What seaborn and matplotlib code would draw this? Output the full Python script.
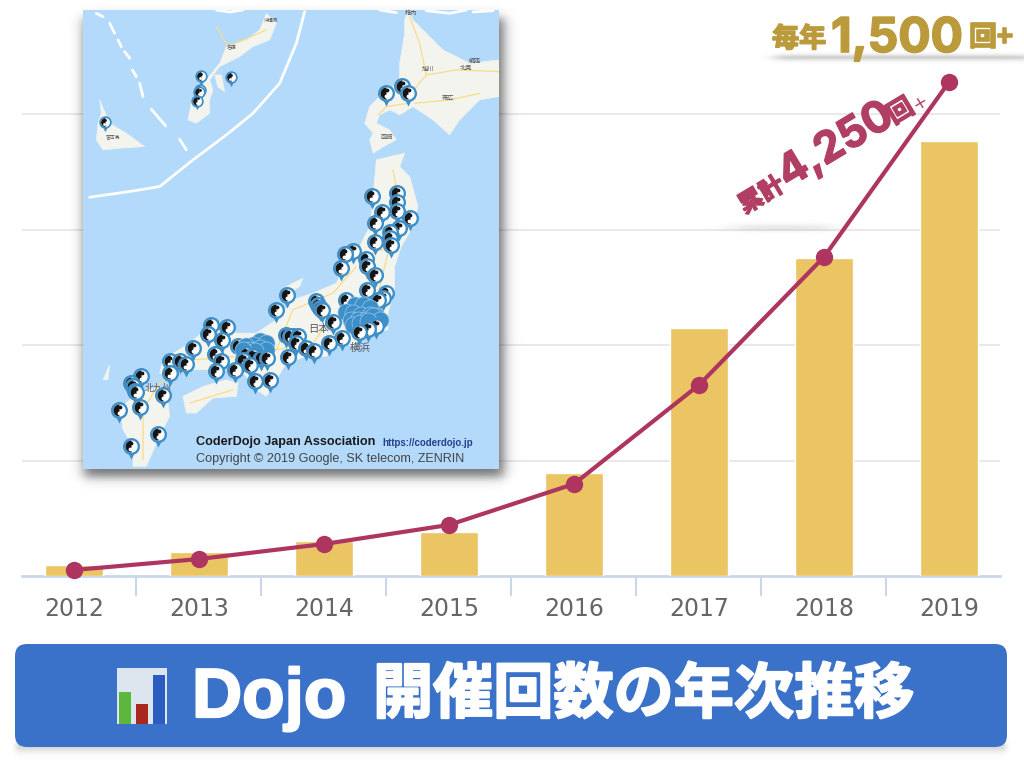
import numpy as np
import pandas as pd
import matplotlib
matplotlib.use("Agg")
import matplotlib.pyplot as plt
from matplotlib.markers import MarkerStyle
from matplotlib.patches import FancyBboxPatch, Polygon, Rectangle
import matplotlib.patheffects as pe
import seaborn as sns

# ---------- data ----------
years = ["2012", "2013", "2014", "2015", "2016", "2017", "2018", "2019"]
yearly_events = [38, 83, 121, 152, 357, 859, 1101, 1507]
cumulative_events = [52, 147, 277, 442, 797, 1654, 2762, 4277]

# ---------- decorative map (coordinates of the map picture) ----------
hokkaido = [(985,30),(1000,60),(1040,100),(1090,150),(1170,190),(1258,180),(1258,290),(1200,300),(1140,360),
            (1110,405),(1060,360),(1000,320),(960,345),(930,330),(900,345),(890,370),(930,390),(950,420),
            (920,435),(880,460),(870,420),(880,400),(855,370),(870,320),(900,290),(930,270),(960,240),(960,190),
            (975,100),(975,60)]
honshu = [(890,480),(930,470),(975,460),(960,500),(990,530),(1015,620),(1000,680),(965,740),(945,800),(945,870),
          (925,940),(925,990),(880,1000),(850,1010),(820,1040),(800,1030),(770,1040),(740,1070),(680,1070),
          (620,1090),(560,1190),(530,1170),(500,1130),(470,1100),(400,1110),(330,1110),(270,1130),(240,1120),
          (250,1080),(330,1030),(400,970),(470,1000),(530,1000),(590,960),(640,900),(700,880),(770,850),
          (800,790),(840,740),(870,680),(880,590)]
shikoku = [(310,1190),(370,1160),(440,1140),(475,1150),(470,1190),(400,1195),(350,1240),(320,1240)]
kyushu = [(200,1170),(260,1160),(270,1250),(240,1310),(200,1400),(160,1400),(160,1340),(130,1290),(120,1230),(150,1200)]
okinawa = [(560,40),(590,70),(570,120),(520,140),(480,170),(420,200),(390,240),(400,270),(390,300),(390,340),
           (350,370),(325,360),(335,310),(380,240),(420,190),(440,140),(500,120),(540,90)]
miyako = [(60,300),(90,370),(140,400),(195,440),(120,445),(70,450),(50,420),(55,370),(65,340)]
sado = [(620,860),(670,835),(660,860),(630,880)]
islands = [sado, [(70,1140),(90,1095),(85,1140)], [(405,225),(425,225),(435,275),(415,262)]]
boundary = [(30,592),(150,575),(240,560),(340,480),(440,405),(520,340),(600,250),(650,130),(675,35)]
dashes = [[(50,40),(70,50)], [(90,70),(105,100)], [(115,120),(125,140)], [(135,155),(150,175)], [(158,210),(170,230)],
          [(180,250),(190,290)], [(215,328),(258,378)], [(300,418),(320,450)],
          [(410,30),(450,36),(490,30)], [(900,30),(950,38)], [(1040,32),(1110,40),(1160,30)], [(1180,36),(1240,32)]]
roads = [[(1258,215),(1130,210),(1040,225),(1010,260),(985,310),(920,320),(895,345)],
         [(1005,310),(1110,300),(1200,280)], [(1040,225),(1020,130),(990,50)],
         [(940,510),(960,620),(925,760),(900,860),(885,985)], [(880,760),(930,740)],
         [(885,985),(750,960),(700,1030),(590,1050),(470,1070),(340,1080),(240,1150),(190,1230),(190,1380)],
         [(590,1050),(640,930),(760,880),(830,800)], [(330,1210),(460,1170)], [(410,80),(445,140),(560,90)]]
pins_back = [(920,278),(968,258),(985,278),(876,587),(953,579),(952,605),(952,632),(990,655),(908,637),(885,670),(930,695),
             (958,683),(930,715),(885,728),(935,737),(820,755),(795,762),(783,805),(858,778),(862,798),(887,825),
             (863,872),(918,880),(910,895),(896,902),(798,900),(622,885),(590,930),(710,905),(715,915),(722,925),(728,932),
             (620,1005),(630,1010),(640,1010),(655,1010),(650,1030),(678,1045),(702,1055),(625,1072),
             (393,975),(443,982),(385,1003),(427,1022),(340,1045),(405,1062),(425,1085),(410,1115),(270,1083),(300,1085),
             (318,1093),(270,1120),(185,1130),(155,1150),(160,1160),(165,1175),(168,1178),(250,1187),(118,1230),(182,1222),
             (235,1302),(153,1338),(475,1040)]
pins_cluster = [(825,915),(850,915),(870,925),(800,938),(820,940),(845,945),(870,945),(890,950),(815,960),(835,960),
                (860,960),(880,950),(900,960),(820,975),(840,970),(865,965),
                (540,1025),(560,1030),(520,1035),(500,1040),(540,1045),(560,1050),(510,1050),(525,1055),(490,1050)]
pins_front = [(760,968),(786,1015),(748,1030),(865,988),(890,980),(838,998),(500,1062),(520,1068),(545,1075),(562,1075),
              (490,1080),(512,1095),(465,1110),(527,1145),(572,1140)]
pins_small = [(363,228),(453,232),(362,270),(358,277),(352,302),(75,367)]
place_labels = [("日本",716,988,7.5),("横浜",842,1045,7.5),("北九州",235,1165,6.5),("函館",923,410,4.5),("旭川",1045,207,4.5),
                ("網走",1185,183,4.5),("北見",1158,205,4.5),("帯広",1105,293,4.5),("宮古島",100,410,3.5),("名護",455,143,3.5),
                ("沖縄県",575,62,3.5),("稚内",993,38,4.5)]

# ---------- colours ----------
BAR = "#ebc463"
LINE = "#ae3560"
GRID = "#e9e9e9"
AXIS = "#ccd6eb"
GOLD = "#bb9a3b"
ROSE = "#b03f63"
BLUE = "#3b72c9"
SEA = "#b3d9fb"
PIN = "#3d8fc9"
CJK = ["Noto Sans CJK JP", "DejaVu Sans"]
WIDE = ["Inter", "Liberation Sans"]

sns.set_theme(style="white")
plt.rcParams["font.family"] = CJK
W, H = 1024, 768
fig = plt.figure(figsize=(W / 100, H / 100), dpi=100, facecolor="white")


def px_axes(x0, y0, x1, y1, z):
    return fig.add_axes([x0 / W, 1 - y1 / H, (x1 - x0) / W, (y1 - y0) / H], zorder=z)


# ---------- chart ----------
ax = px_axes(22, 576 - 519.75, 1000, 576, 1)
ax.patch.set_alpha(0)
df = pd.DataFrame({"year": years, "events": yearly_events})
sns.barplot(data=df, x="year", y="events", color=BAR, saturation=1, width=0.47, ax=ax, zorder=3)
ax.set_ylim(0, 1800)
ax.set_yticks(np.arange(400, 1601, 400))
ax.set_yticklabels([])
ax.yaxis.grid(True, color=GRID, lw=1.5, zorder=0)
ax.set_axisbelow(True)
ax.set_xlabel("")
ax.set_ylabel("")
for s in ["top", "left", "right"]:
    ax.spines[s].set_visible(False)
ax.spines["bottom"].set_color(AXIS)
ax.spines["bottom"].set_linewidth(2)
ax.set_xticks(np.arange(len(years) - 1) + 0.5, minor=True)
ax.tick_params(axis="x", which="minor", length=14.5, width=1.5, color=AXIS, bottom=True)
ax.tick_params(axis="x", which="major", length=0, pad=15, labelsize=17, labelcolor="#666666")
ax.tick_params(axis="y", length=0)
for t in ax.get_xticklabels():
    t.set_family(["DejaVu Sans"])

ax2 = ax.twinx()
ax2.patch.set_alpha(0)
sns.lineplot(x=np.arange(len(years)), y=cumulative_events, color=LINE, lw=3, marker="o", markersize=12.5,
             markeredgewidth=0, ax=ax2, clip_on=False, zorder=5)
ax2.set_ylim(0, 4500)
ax2.set_yticks([])
ax2.set_ylabel("")
for s in ax2.spines.values():
    s.set_visible(False)
ax.set_xlim((22 - 74) / 125, (1000 - 74) / 125)
ax2.set_xlim((22 - 74) / 125, (1000 - 74) / 125)

# ---------- soft shadows ----------
sh = px_axes(0, 0, W, H, 2)
sh.axis("off")
xx, yy = np.meshgrid(np.arange(W) + 0.5, np.arange(H) + 0.5)


def soft_box(x0, y0, x1, y1, sx, sy, alpha, color=(0.1, 0.1, 0.1)):
    a = 0.5 * (np.tanh((xx - x0) / sx) - np.tanh((xx - x1) / sx))
    b = 0.5 * (np.tanh((yy - y0) / sy) - np.tanh((yy - y1) / sy))
    img = np.zeros((H, W, 4))
    img[..., 0], img[..., 1], img[..., 2] = color
    img[..., 3] = np.clip(a * b * alpha, 0, 1)
    sh.imshow(img, extent=(0, W, H, 0), interpolation="bilinear", aspect="auto", zorder=1)


soft_box(84, 18, 504, 477, 7, 6, 0.6)
soft_box(775, 56, 1030, 59, 9, 2.5, 0.38)
soft_box(735, 226, 830, 229, 18, 3, 0.22)
soft_box(16, 745, 1006, 748, 3, 5, 0.6)
sh.set_xlim(0, W)
sh.set_ylim(H, 0)

# ---------- map ----------
m = px_axes(83, 10, 499, 469, 3)
m.set_facecolor(SEA)
for poly in [hokkaido, honshu, shikoku, kyushu, okinawa, miyako] + islands:
    m.add_patch(Polygon(poly, closed=True, fc="#f4f4ee", ec="#eef3ee", lw=0.5, zorder=1))
for r in roads:
    m.plot(*zip(*r), color="#f7dc8a", lw=0.9, zorder=2)
m.plot(*zip(*boundary), color="white", lw=2, zorder=2)
for d in dashes:
    m.plot(*zip(*d), color="white", lw=2, zorder=2)
for name, x, y, fs in place_labels:
    m.text(x, y, name, fontsize=fs, color="#555555", ha="center", va="center", zorder=3)


def draw_pins(points, s_head, dy, base):
    d = pd.DataFrame(points, columns=["x", "y"]).sort_values("y")
    for i, (x, y) in enumerate(zip(d["x"], d["y"])):
        z = base + i * 0.01
        sns.scatterplot(x=[x], y=[y + dy], marker="v", s=s_head * 0.35, color=PIN, linewidth=0, ax=m, zorder=z)
        sns.scatterplot(x=[x], y=[y], s=s_head, color=PIN, linewidth=0, ax=m, zorder=z)
        m.scatter([x], [y], s=s_head * 0.52, color="white", linewidth=0, zorder=z + 0.001)
        m.scatter([x], [y], s=s_head * 0.5, marker=MarkerStyle("o", fillstyle="left"), color="#151515", linewidth=0,
                  zorder=z + 0.002)
        m.scatter([x + 1.5], [y - 9 * (s_head / 150) ** 0.5], s=s_head * 0.05, color="#151515", linewidth=0, zorder=z + 0.003)
        m.scatter([x - 1.5], [y + 9 * (s_head / 150) ** 0.5], s=s_head * 0.05, color="white", linewidth=0, zorder=z + 0.003)


def draw_cluster(points, s_head, z):
    d = pd.DataFrame(points, columns=["x", "y"])
    sns.scatterplot(data=d, x="x", y="y", s=s_head, color=PIN, edgecolor="#9cc8ea", linewidth=0.5, ax=m, zorder=z)


draw_pins(pins_back, 150, 24, 4)
draw_cluster(pins_cluster, 150, 6)
draw_pins(pins_front, 150, 24, 7)
draw_pins(pins_small, 80, 17, 9)
m.set_xlabel("")
m.set_ylabel("")
m.set_xlim(10, 1258)
m.set_ylim(1408, 30)
m.set_xticks([])
m.set_yticks([])
for s in m.spines.values():
    s.set_visible(False)

# ---------- top overlay ----------
o = px_axes(0, 0, W, H, 4)
o.set_xlim(0, W)
o.set_ylim(H, 0)
o.axis("off")

o.text(196, 442, "CoderDojo Japan Association", fontsize=9.1, fontweight="bold", color="#1a1a1a",
       family=["Liberation Sans"], ha="left", va="center")
o.text(382, 443, "https://coderdojo.jp", fontsize=7, fontweight="bold", color="#27408b",
       family=["Liberation Sans"], ha="left", va="center")
o.text(196, 459, "Copyright © 2019 Google, SK telecom, ZENRIN", fontsize=9.1, color="#444444",
       family=["Liberation Sans"], ha="left", va="center")

# gold headline
thick_gold = [pe.withStroke(linewidth=1.2, foreground=GOLD)]
o.text(772, 39, "毎年", fontsize=19.5, fontweight="bold", color=GOLD, ha="left", va="center", path_effects=thick_gold)
o.text(831, 52, "1,500", fontsize=34.5, fontweight="bold", color=GOLD, family=WIDE, ha="left",
       va="baseline", path_effects=thick_gold)
o.text(969, 38, "回+", fontsize=20, fontweight="bold", color=GOLD, ha="left", va="center", path_effects=thick_gold)

# rotated cumulative headline
ang = 31.0
ux, uy = np.cos(np.radians(ang)), -np.sin(np.radians(ang))
sx, sy = 748, 212
thick_rose = [pe.withStroke(linewidth=1.0, foreground=ROSE)]


def along(dist, text, fs, fam, weight="bold"):
    o.text(sx + ux * dist, sy + uy * dist, text, fontsize=fs, fontweight=weight, color=ROSE, family=fam, rotation=ang,
           rotation_mode="anchor", ha="left", va="baseline", path_effects=thick_rose if weight == "bold" else None)


along(-4, "累計", 17.5, CJK)
along(46, "4,250", 31, WIDE)
along(170, "回", 18.5, CJK)
along(196, "+", 13, ["DejaVu Sans"], "normal")

# banner
o.add_patch(FancyBboxPatch((27, 656), 968, 79, boxstyle="round,pad=12,rounding_size=12", fc=BLUE, ec="none", zorder=2))
o.add_patch(Rectangle((117, 668), 50, 56, fc="#dde6ef", ec="none", zorder=3))
o.add_patch(Rectangle((119, 692), 12, 32, fc="#5cb83c", ec="none", zorder=4))
o.add_patch(Rectangle((136, 704), 12, 20, fc="#a8281e", ec="none", zorder=4))
o.add_patch(Rectangle((153, 675), 12, 49, fc="#2a5dbf", ec="none", zorder=4))
thick_white = [pe.withStroke(linewidth=1.6, foreground="white")]
o.text(192, 717, "Dojo", fontsize=50, fontweight="bold", color="white", family=["Liberation Sans"], ha="left",
       va="baseline", zorder=5, path_effects=thick_white)
o.text(373, 695, "開催回数の年次推移", fontsize=43.3, fontweight="bold", color="white", ha="left", va="center", zorder=5,
       path_effects=thick_white)

fig.savefig("out.png", dpi=100, facecolor="white")
